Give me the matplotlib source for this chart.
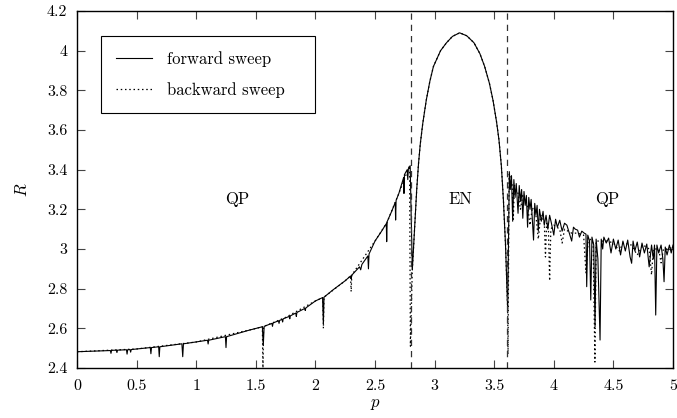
import numpy as np
import matplotlib
matplotlib.use('Agg')
import matplotlib.pyplot as plt

plt.rcParams['font.family'] = ['cmr10', 'DejaVu Serif']
plt.rcParams['mathtext.fontset'] = 'cm'
plt.rcParams['axes.formatter.use_mathtext'] = True

# forward sweep (p, R)
p_fwd = [0.00, 0.28, 0.285, 0.29, 0.33, 0.335, 0.34, 0.415, 0.42, 0.425, 0.445, 0.45, 0.455,
         0.615, 0.62, 0.625, 0.685, 0.69, 0.695, 0.88, 0.887, 0.893, 1.095, 1.10, 1.105,
         1.245, 1.25, 1.255, 1.44, 1.555, 1.563, 1.57, 1.635, 1.64, 1.645, 1.69, 1.695, 1.70,
         1.72, 1.725, 1.73, 1.78, 1.785, 1.79, 1.835, 1.84, 1.845, 1.91, 1.915, 1.92,
         2.00, 2.06, 2.067, 2.072, 2.15, 2.25, 2.295, 2.30, 2.305, 2.37, 2.38, 2.39,
         2.44, 2.445, 2.45, 2.50, 2.55, 2.595, 2.598, 2.602, 2.64, 2.67, 2.673, 2.677,
         2.70, 2.74, 2.743, 2.747, 2.77, 2.775, 2.78, 2.795,
         # EN window
         2.813, 2.83, 2.85, 2.865, 2.88, 2.90, 2.93, 2.96, 2.99, 3.05, 3.10, 3.15, 3.21,
         3.27, 3.33, 3.38, 3.42, 3.46, 3.49, 3.52, 3.54, 3.56, 3.577, 3.595, 3.613,
         # right QP region
         3.627, 3.635, 3.645, 3.655, 3.665, 3.675, 3.685, 3.70, 3.71, 3.72, 3.73, 3.74,
         3.75, 3.76, 3.77, 3.78, 3.79, 3.80, 3.81, 3.83, 3.84, 3.85, 3.86, 3.87, 3.88,
         3.895, 3.91, 3.92, 3.935, 3.95, 3.965, 3.98, 4.00, 4.015, 4.03, 4.05, 4.07, 4.09,
         4.11, 4.13, 4.15, 4.165, 4.18, 4.20, 4.215, 4.235, 4.255, 4.27, 4.276, 4.285,
         4.30, 4.31, 4.32, 4.335, 4.346, 4.355, 4.37, 4.388, 4.398, 4.41, 4.42, 4.44,
         4.46, 4.48, 4.50, 4.52, 4.54, 4.56, 4.58, 4.60, 4.62, 4.64, 4.653, 4.665, 4.68,
         4.70, 4.72, 4.74, 4.76, 4.78, 4.80, 4.82, 4.835, 4.845, 4.855, 4.865, 4.88, 4.90,
         4.915, 4.925, 4.935, 4.95, 4.97, 4.985, 5.00]
R_fwd = [2.482, 2.488, 2.474, 2.489, 2.490, 2.478, 2.490, 2.492, 2.470, 2.492, 2.493, 2.480, 2.493,
         2.503, 2.472, 2.503, 2.507, 2.457, 2.507, 2.522, 2.457, 2.522, 2.540, 2.521, 2.540,
         2.558, 2.503, 2.558, 2.590, 2.608, 2.516, 2.610, 2.625, 2.610, 2.627, 2.638, 2.625, 2.640,
         2.645, 2.632, 2.648, 2.660, 2.648, 2.663, 2.677, 2.660, 2.680, 2.700, 2.690, 2.703,
         2.738, 2.755, 2.625, 2.757, 2.795, 2.840, 2.864, 2.850, 2.868, 2.910, 2.895, 2.922,
         2.965, 2.900, 2.975, 3.040, 3.085, 3.128, 3.037, 3.138, 3.190, 3.235, 3.146, 3.245,
         3.280, 3.360, 3.280, 3.375, 3.400, 3.350, 3.405, 3.420,
         2.894, 3.080, 3.300, 3.430, 3.530, 3.630, 3.750, 3.845, 3.920, 4.000, 4.040, 4.072, 4.090,
         4.075, 4.040, 3.985, 3.920, 3.835, 3.750, 3.640, 3.550, 3.420, 3.250, 3.020, 2.692,
         3.390, 3.300, 3.370, 3.140, 3.350, 3.260, 3.330, 3.180, 3.320, 3.240, 3.300, 3.155,
         3.290, 3.220, 3.270, 3.110, 3.260, 3.200, 3.250, 3.045, 3.230, 3.170, 3.220, 3.090, 3.200,
         3.140, 3.190, 3.120, 3.170, 3.100, 3.170, 3.130, 3.070, 3.150, 3.110, 3.145, 3.090, 3.130,
         3.120, 3.080, 3.040, 3.110, 3.100, 3.095, 3.060, 3.090, 3.080, 3.075, 2.810, 3.070,
         3.040, 2.743, 3.060, 3.020, 2.608, 3.050, 2.950, 2.541, 3.050, 3.000, 3.060, 3.030,
         3.055, 2.980, 3.050, 3.000, 3.045, 2.970, 3.040, 2.990, 3.045, 2.960, 2.928, 3.040, 2.990,
         3.035, 2.960, 3.030, 2.980, 3.025, 2.910, 3.020, 2.950, 3.020, 2.667, 3.020, 2.980, 3.020,
         2.950, 2.835, 3.010, 2.970, 3.020, 2.980, 3.020]

# backward sweep (p, R)
p_bwd = [0.00, 0.50, 1.00, 1.50, 1.555, 1.56, 1.565, 1.75, 2.00, 2.062, 2.067, 2.072, 2.25,
         2.295, 2.30, 2.305, 2.50, 2.60, 2.70, 2.79, 2.797,
         2.813, 2.83, 2.85, 2.865, 2.88, 2.90, 2.93, 2.96, 2.99, 3.05, 3.10, 3.15, 3.21,
         3.27, 3.33, 3.38, 3.42, 3.46, 3.49, 3.52, 3.54, 3.56, 3.577, 3.595, 3.613,
         3.616, 3.625, 3.65, 3.66, 3.67, 3.70, 3.72, 3.74, 3.78, 3.80, 3.82, 3.85, 3.87,
         3.89, 3.92, 3.93, 3.94, 3.955, 3.965, 3.975, 4.00, 4.05, 4.07, 4.09, 4.15, 4.20, 4.25,
         4.27, 4.29, 4.33, 4.345, 4.355, 4.40, 4.45, 4.50, 4.55, 4.58, 4.65, 4.70, 4.75, 4.80,
         4.82, 4.835, 4.88, 4.90, 4.92, 4.96, 5.00]
R_bwd = [2.482, 2.496, 2.531, 2.599, 2.608, 2.400, 2.609, 2.655, 2.738, 2.755, 2.600, 2.757, 2.840,
         2.864, 2.785, 2.868, 3.040, 3.133, 3.280, 3.420, 2.510,
         2.894, 3.080, 3.300, 3.430, 3.530, 3.630, 3.750, 3.845, 3.920, 4.000, 4.040, 4.072, 4.090,
         4.075, 4.040, 3.985, 3.920, 3.835, 3.750, 3.640, 3.550, 3.420, 3.250, 3.020, 2.692,
         2.470, 3.380, 3.330, 3.150, 3.320, 3.280, 3.200, 3.270, 3.220, 3.120, 3.210, 3.170, 3.050,
         3.170, 3.140, 2.960, 3.130, 3.100, 2.840, 3.100, 3.120, 3.100, 3.030, 3.100, 3.080, 3.080, 3.070,
         2.880, 3.060, 3.030, 2.430, 3.040, 3.040, 3.040, 3.030, 2.990, 3.030, 3.020, 2.970, 3.020, 3.000,
         2.870, 3.000, 3.000, 2.930, 3.000, 3.000, 3.010]

boundaries = [2.802, 3.605]
regions = ['QP', 'EN', 'QP']
region_p = [1.34, 3.22, 4.45]
region_R = [3.25, 3.25, 3.25]

x_ticks = [0, 0.5, 1, 1.5, 2, 2.5, 3, 3.5, 4, 4.5, 5]
x_ticklabels = ['0', '0.5', '1', '1.5', '2', '2.5', '3', '3.5', '4', '4.5', '5']
y_ticks = [2.4, 2.6, 2.8, 3.0, 3.2, 3.4, 3.6, 3.8, 4.0, 4.2]
y_ticklabels = ['2.4', '2.6', '2.8', '3', '3.2', '3.4', '3.6', '3.8', '4', '4.2']

fig = plt.figure(figsize=(6.77, 4.18), dpi=100)
ax = fig.add_axes([77 / 677, 1 - 368 / 418, 596 / 677, 357 / 418])

ax.plot(p_fwd, R_fwd, color='black', lw=0.8, label='forward sweep')
ax.plot(p_bwd, R_bwd, color='black', lw=0.9, ls=(0, (1.2, 2.2)), label='backward sweep')
for b in boundaries:
    ax.axvline(b, color='#333333', lw=0.9, ls=(0, (5, 4)))
for name, px, py in zip(regions, region_p, region_R):
    ax.text(px, py, name, ha='center', va='center', fontsize=12)

ax.set_xlim(0, 5)
ax.set_ylim(2.4, 4.2)
ax.set_xticks(x_ticks)
ax.set_xticklabels(x_ticklabels)
ax.set_yticks(y_ticks)
ax.set_yticklabels(y_ticklabels)
ax.tick_params(direction='in', top=True, right=True, length=6, width=0.8,
               color='#444444', labelsize=11.5)
ax.tick_params(axis='x', pad=8)
ax.tick_params(axis='y', pad=7)
for s in ax.spines.values():
    s.set_linewidth(1.0)

ax.set_xlabel('$p$', fontsize=12, labelpad=3)
ax.set_ylabel('$R$', fontsize=12, labelpad=12)

leg = ax.legend(loc='upper left', bbox_to_anchor=(0.04, 0.714, 0.36, 0.216), mode='expand',
                fontsize=12, fancybox=False, framealpha=1, edgecolor='black',
                handlelength=2.15, handletextpad=0.9, borderpad=0.9, labelspacing=0.9,
                borderaxespad=0)
leg.get_frame().set_linewidth(0.8)

fig.savefig('out.png', dpi=100)
